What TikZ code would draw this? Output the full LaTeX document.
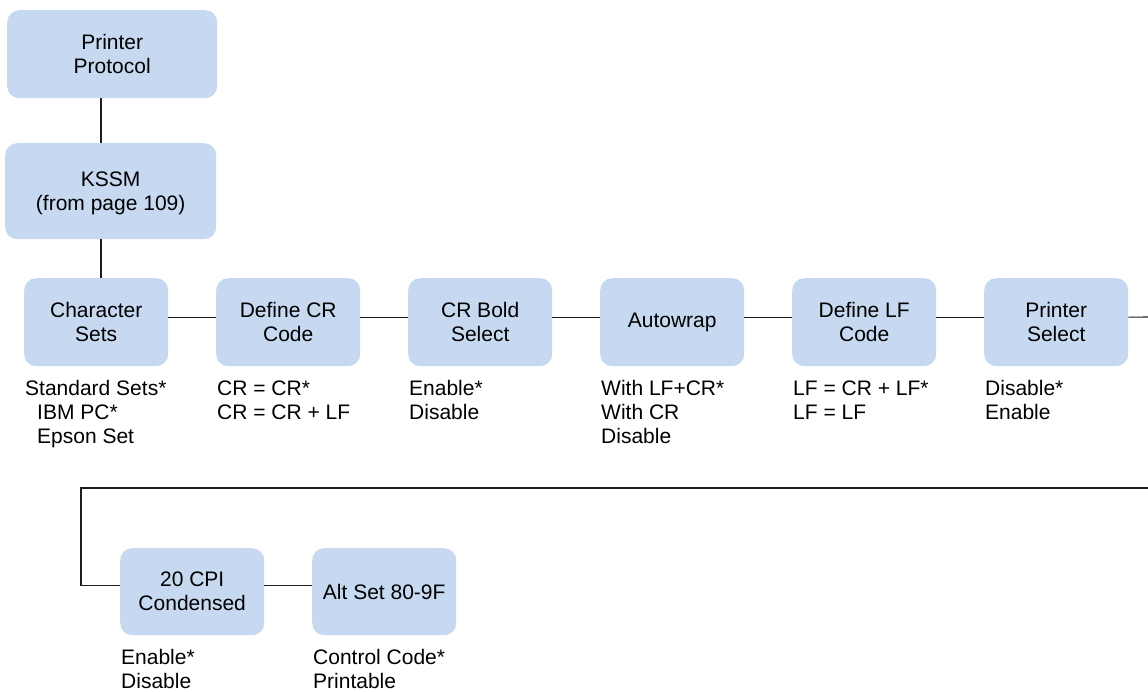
\documentclass[tikz,border=0pt]{standalone}
\usepackage{fontspec}
\setmainfont{Liberation Sans}
\definecolor{boxblue}{RGB}{198,217,241}
\definecolor{linegray}{RGB}{30,30,30}
\begin{document}
\begin{tikzpicture}[x=1pt,y=-1pt,
  every node/.style={font=\fontsize{21}{24}\selectfont},
  box/.style={rounded corners=12pt, fill=boxblue, minimum width=144pt, minimum height=88pt,
    align=center, inner sep=0pt, anchor=north west},
  lbl/.style={anchor=base west, inner sep=0pt},
  conn/.style={draw=linegray, line width=1.1pt}]
\useasboundingbox (0,0) rectangle (1148,692);
% top boxes
\node[box, minimum width=210pt, minimum height=88pt] (pp) at (7,10) {Printer\\Protocol};
\node[box, minimum width=211pt, minimum height=96pt, text depth=0pt] (kssm) at (5,143) {KSSM\\(from page 109)};
% row 1
\node[box] (cs)  at (24,278)  {Character\\Sets};
\node[box] (dcr) at (216,278) {Define CR\\Code};
\node[box] (crb) at (408,278) {CR Bold\\Select};
\node[box] (aw)  at (600,278) {Autowrap};
\node[box] (dlf) at (792,278) {Define LF\\Code};
\node[box] (ps)  at (984,278) {Printer\\Select};
% row 2
\node[box, minimum height=87pt] (cpi) at (120,548) {20 CPI\\Condensed};
\node[box, minimum height=87pt] (alt) at (312,548) {Alt Set 80-9F};
% connectors
\draw[conn] ([xshift=94pt]pp.south west) -- ([xshift=96pt]kssm.north west);
\draw[conn] ([xshift=96pt]kssm.south west) -- ([xshift=77pt]cs.north west);
\draw[conn] ([yshift=5pt]cs.east) -- ([yshift=5pt]dcr.west);
\draw[conn] ([yshift=5pt]dcr.east) -- ([yshift=5pt]crb.west);
\draw[conn] ([yshift=5pt]crb.east) -- ([yshift=5pt]aw.west);
\draw[conn] ([yshift=5pt]aw.east) -- ([yshift=5pt]dlf.west);
\draw[conn] ([yshift=5pt]dlf.east) -- ([yshift=5pt]ps.west);
\coordinate (r1) at (1148,317);
\draw[conn] ([yshift=5pt]ps.east) -- (r1);
\coordinate (b1) at (1148,488);
\coordinate (b2) at (81,488);
\draw[conn] (b1) -- (b2) |- ([yshift=6.5pt]cpi.west);
\draw[conn] ([yshift=6.5pt]cpi.east) -- ([yshift=6.5pt]alt.west);
% labels row 1
\node[lbl] (cs1) at (25,395) {Standard Sets*};
\node[lbl] (cs2) at (37,419) {IBM PC*};
\node[lbl] (cs3) at (37,443) {Epson Set};
\node[lbl] (dcr1) at (217,395) {CR = CR*};
\node[lbl] (dcr2) at (217,419) {CR = CR + LF};
\node[lbl] (crb1) at (409,395) {Enable*};
\node[lbl] (crb2) at (409,419) {Disable};
\node[lbl] (aw1) at (601,395) {With LF+CR*};
\node[lbl] (aw2) at (601,419) {With CR};
\node[lbl] (aw3) at (601,443) {Disable};
\node[lbl] (dlf1) at (793,395) {LF = CR + LF*};
\node[lbl] (dlf2) at (793,419) {LF = LF};
\node[lbl] (ps1) at (985,395) {Disable*};
\node[lbl] (ps2) at (985,419) {Enable};
% labels row 2
\node[lbl] (cpi1) at (121,664) {Enable*};
\node[lbl] (cpi2) at (121,688) {Disable};
\node[lbl] (alt1) at (313,664) {Control Code*};
\node[lbl] (alt2) at (313,688) {Printable};
\end{tikzpicture}
\end{document}
